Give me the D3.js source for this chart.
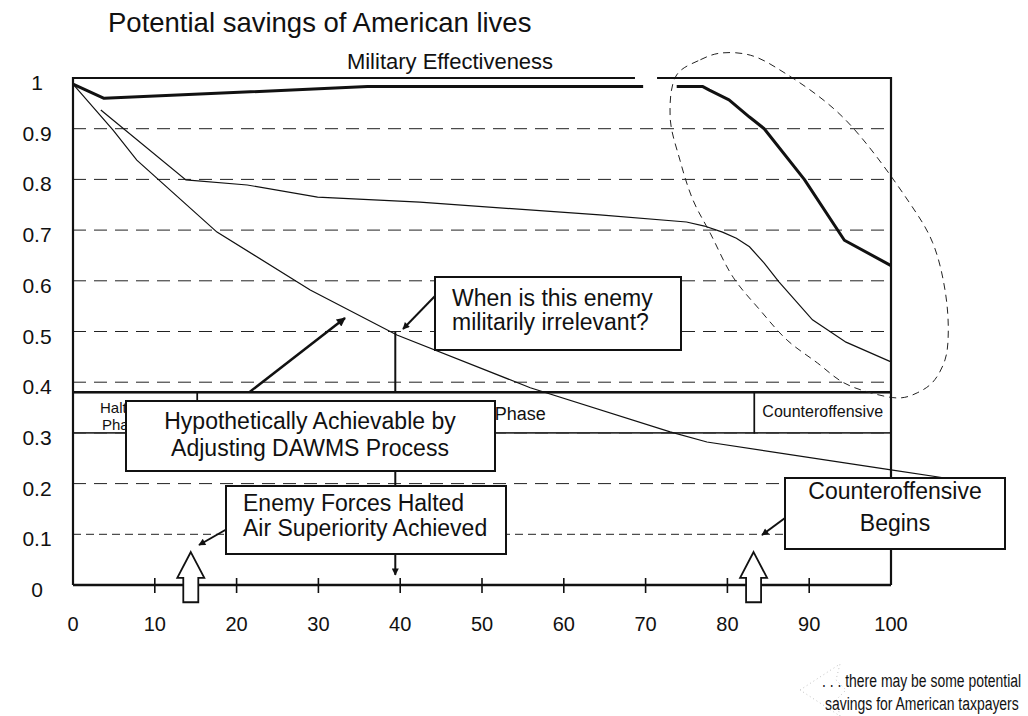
<!DOCTYPE html>
<html><head><meta charset="utf-8">
<script src="https://cdn.jsdelivr.net/npm/d3@7"></script>
<style>
body{margin:0;background:#fff}
text{font-family:"Liberation Sans",Arial,Helvetica,sans-serif;fill:#111}
</style>
</head><body>
<svg id="chart" width="1028" height="716"></svg>
<script>
// ---------- data ----------
const xTicks = [0,10,20,30,40,50,60,70,80,90,100];
const yTicks = [0,0.1,0.2,0.3,0.4,0.5,0.6,0.7,0.8,0.9,1];
const yTickLabels = ["0","0.1","0.2","0.3","0.4","0.5","0.6","0.7","0.8","0.9","1"];
const gridValues = [0.1,0.2,0.3,0.4,0.5,0.6,0.7,0.8,0.9];

// Military effectiveness (thick line); null = break in the line
const milX = [0, 3.8, 36, 69.7, 71.7, 73.8, 77, 77.8, 80.2, 82.7, 84.5, 89.4, 94.3, 100];
const milV = [0.988, 0.96, 0.983, 0.983, null, 0.983, 0.983, 0.976, 0.957, 0.923, 0.9, 0.8, 0.68, 0.63];

// middle thin curve
const midX = [3.4, 13.8, 21.3, 29.9, 42.4, 64.4, 75, 77.2, 79.4, 81.1, 82.7, 84.5, 86.3, 90.4, 94.5, 100];
const midV = [0.937, 0.799, 0.789, 0.765, 0.755, 0.73, 0.716, 0.708, 0.696, 0.684, 0.667, 0.635, 0.598, 0.523, 0.479, 0.44];

// lower thin curve
const lowX = [0, 4.9, 7.8, 17.6, 29.0, 39.6, 55.9, 73.0, 77.5, 100, 106.6];
const lowV = [0.988, 0.897, 0.838, 0.696, 0.582, 0.493, 0.389, 0.302, 0.282, 0.227, 0.211];

// phases
const phaseStart = [0, 15.2, 83.3];
const phaseEnd = [15.2, 83.3, 100];
const phaseLabels = [["Halting","Phase"], ["Phase"], ["Counteroffensive"]];
const phaseTop = 0.38, phaseBottom = 0.30;

// milestones (hollow arrows)
const milestoneX = [14.4, 83.2];
const irrelevantX = 39.4, irrelevantV = 0.5;

// dashed ring annotation
const ringX = [73.8,76.7,79.1,82.8,86.8,94.1,102.3,105.1,106.6,107.0,106.6,105.1,103.2,101.1,97.1,94.1,91.0,87.3,84.0,80.7,77.9,75.8,74.2,73.0];
const ringV = [1.006,1.036,1.049,1.045,1.012,0.923,0.753,0.675,0.582,0.497,0.444,0.400,0.379,0.369,0.381,0.400,0.438,0.483,0.542,0.607,0.694,0.759,0.838,0.923];

// ---------- drawing ----------
const svg = d3.select("#chart");
const x = d3.scaleLinear().domain([0,100]).range([73,891]);
const y = d3.scaleLinear().domain([0,1]).range([585,78]);

const defs = svg.append("defs");
defs.append("marker").attr("id","ah").attr("viewBox","0 0 10 10")
  .attr("refX",9).attr("refY",5).attr("markerWidth",12).attr("markerHeight",9)
  .attr("markerUnits","userSpaceOnUse").attr("orient","auto")
  .append("path").attr("d","M0,0L10,5L0,10Z").attr("fill","#111");
defs.append("marker").attr("id","ahs").attr("viewBox","0 0 10 10")
  .attr("refX",9).attr("refY",5).attr("markerWidth",9).attr("markerHeight",7)
  .attr("markerUnits","userSpaceOnUse").attr("orient","auto")
  .append("path").attr("d","M0,0L10,5L0,10Z").attr("fill","#111");

// title texts
svg.append("text").attr("x",108).attr("y",32).attr("font-size",27.5).text("Potential savings of American lives");
svg.append("text").attr("x",450).attr("y",69).attr("font-size",22).attr("text-anchor","middle").text("Military Effectiveness");

// gridlines
svg.append("g").selectAll("line").data(gridValues).join("line")
  .attr("x1",x(0)).attr("x2",x(100)).attr("y1",d=>y(d)).attr("y2",d=>y(d))
  .attr("stroke","#222").attr("stroke-width",1)
  .attr("stroke-dasharray",d=> d<=0.15 ? "8,5" : "13,8");

// vertical marker line at the "irrelevant" point
svg.append("line").attr("x1",x(irrelevantX)).attr("x2",x(irrelevantX))
  .attr("y1",y(irrelevantV)).attr("y2",y(0.02))
  .attr("stroke","#111").attr("stroke-width",2).attr("marker-end","url(#ahs)");

// arrow from "Hypothetically" box
svg.append("line").attr("x1",238).attr("y1",401).attr("x2",345).attr("y2",318)
  .attr("stroke","#111").attr("stroke-width",2.5).attr("marker-end","url(#ah)");

// phase bar
const phases = phaseStart.map((s,i)=>({s, e:phaseEnd[i], label:phaseLabels[i]}));
const pg = svg.append("g");
pg.selectAll("rect").data(phases).join("rect")
  .attr("x",d=>x(d.s)).attr("width",d=>x(d.e)-x(d.s))
  .attr("y",y(phaseTop)).attr("height",y(phaseBottom)-y(phaseTop))
  .attr("fill","#fff").attr("stroke","#111").attr("stroke-width",1.5);
pg.append("line").attr("x1",x(0)).attr("x2",x(100)).attr("y1",y(phaseTop)).attr("y2",y(phaseTop))
  .attr("stroke","#111").attr("stroke-width",2.5);
// labels
pg.append("text").attr("x",100).attr("y",413).attr("font-size",15).text(phaseLabels[0][0]);
pg.append("text").attr("x",102).attr("y",430).attr("font-size",15).text(phaseLabels[0][1]);
pg.append("text").attr("x",x(57.8)).attr("y",420).attr("font-size",18).attr("text-anchor","end").text(phaseLabels[1][0]);
pg.append("text").attr("x",(x(83.3)+x(100))/2).attr("y",417).attr("font-size",16).attr("text-anchor","middle").text(phaseLabels[2][0]);

// dashed ring
const ring = ringX.map((d,i)=>[x(d), y(ringV[i])]);
svg.append("path").attr("d", d3.line().curve(d3.curveCatmullRomClosed)(ring))
  .attr("fill","none").attr("stroke","#222").attr("stroke-width",1).attr("stroke-dasharray","7,5");

// curves
const lineGen = d3.line().defined(d=>d[1]!==null).x(d=>x(d[0])).y(d=>y(d[1]));
svg.append("path").attr("d", lineGen(lowX.map((d,i)=>[d,lowV[i]])))
  .attr("fill","none").attr("stroke","#111").attr("stroke-width",1.2);
svg.append("path").attr("d", lineGen(midX.map((d,i)=>[d,midV[i]])))
  .attr("fill","none").attr("stroke","#111").attr("stroke-width",1.2);
svg.append("path").attr("d", lineGen(milX.map((d,i)=>[d,milV[i]])))
  .attr("fill","none").attr("stroke","#111").attr("stroke-width",3).attr("stroke-linejoin","round");

// frame
const frame = svg.append("g").attr("stroke","#111").attr("fill","none");
frame.append("line").attr("x1",x(0)).attr("x2",x(0)).attr("y1",y(1)-1).attr("y2",y(0)).attr("stroke-width",2.2);
frame.append("line").attr("x1",x(100)).attr("x2",x(100)).attr("y1",y(1)-1).attr("y2",y(0)).attr("stroke-width",2.2);
frame.append("line").attr("x1",x(0)).attr("x2",x(68.7)).attr("y1",y(1)).attr("y2",y(1)).attr("stroke-width",2);
frame.append("line").attr("x1",x(71.4)).attr("x2",x(100)).attr("y1",y(1)).attr("y2",y(1)).attr("stroke-width",2);
frame.append("line").attr("x1",x(0)).attr("x2",x(100)).attr("y1",y(0)).attr("y2",y(0)).attr("stroke-width",2.6);

// x-axis ticks and labels
const xa = svg.append("g");
xa.selectAll("line").data(xTicks.filter(d=>d>0 && d<100)).join("line")
  .attr("x1",d=>x(d)).attr("x2",d=>x(d)).attr("y1",y(0)-7).attr("y2",y(0)+8)
  .attr("stroke","#111").attr("stroke-width",1.6);
xa.selectAll("text").data(xTicks).join("text")
  .attr("x",d=>x(d)).attr("y",631).attr("font-size",20).attr("text-anchor","middle").text(d=>d);

// y-axis labels
svg.append("g").selectAll("text").data(yTicks).join("text")
  .attr("x",37).attr("y",d=>y(d)+12).attr("font-size",21).attr("text-anchor","middle")
  .text((d,i)=>yTickLabels[i]);

// pointer arrows
const ptrs = [[435,296,403,329],[227,529,199,545],[785,518,762,535]];
svg.append("g").selectAll("line").data(ptrs).join("line")
  .attr("x1",d=>d[0]).attr("y1",d=>d[1]).attr("x2",d=>d[2]).attr("y2",d=>d[3])
  .attr("stroke","#111").attr("stroke-width",2).attr("marker-end","url(#ahs)");

// annotation boxes
const boxes = [
  {x:435,y:277,w:246,h:73, anchor:"start", tx:452, lines:["When is this enemy","militarily irrelevant?"], ty:[306,330]},
  {x:126,y:401,w:369,h:70, anchor:"middle", tx:310, lines:["Hypothetically Achievable by","Adjusting DAWMS Process"], ty:[429,456]},
  {x:226,y:486,w:280,h:68, anchor:"start", tx:243, lines:["Enemy Forces Halted","Air Superiority Achieved"], ty:[511,536]},
  {x:785,y:478,w:220,h:71, anchor:"middle", tx:895, lines:["Counteroffensive","Begins"], ty:[499,531]}
];
const bg = svg.append("g").selectAll("g").data(boxes).join("g");
bg.append("rect").attr("x",d=>d.x).attr("y",d=>d.y).attr("width",d=>d.w).attr("height",d=>d.h)
  .attr("fill","#fff").attr("stroke","#111").attr("stroke-width",2);
bg.each(function(d){
  const g = d3.select(this);
  d.lines.forEach((t,i)=>{
    g.append("text").attr("x",d.tx).attr("y",d.ty[i]).attr("font-size",23)
      .attr("text-anchor",d.anchor).text(t);
  });
});

// hollow milestone arrows
svg.append("g").selectAll("path").data(milestoneX).join("path")
  .attr("d", d=>{
    const cx = x(d), tip = y(0.065), base = y(0.014), bot = y(-0.034);
    return `M${cx},${tip}L${cx+13.5},${base}L${cx+7.5},${base}L${cx+7.5},${bot}L${cx-7.5},${bot}L${cx-7.5},${base}L${cx-13.5},${base}Z`;
  })
  .attr("fill","#fff").attr("stroke","#111").attr("stroke-width",1.8);

// footer note
svg.append("path").attr("d","M800,690L840,664L836,680L846,690L836,700L840,716Z")
  .attr("fill","none").attr("stroke","#c4c4c4").attr("stroke-width",1).attr("stroke-dasharray","1,3");
svg.append("text").attr("transform","translate(822,687) scale(0.775,1)").attr("font-size",18)
  .text(". . . there may be some potential");
svg.append("text").attr("transform","translate(825,710) scale(0.775,1)").attr("font-size",18)
  .text("savings for American taxpayers");
</script>
</body></html>
